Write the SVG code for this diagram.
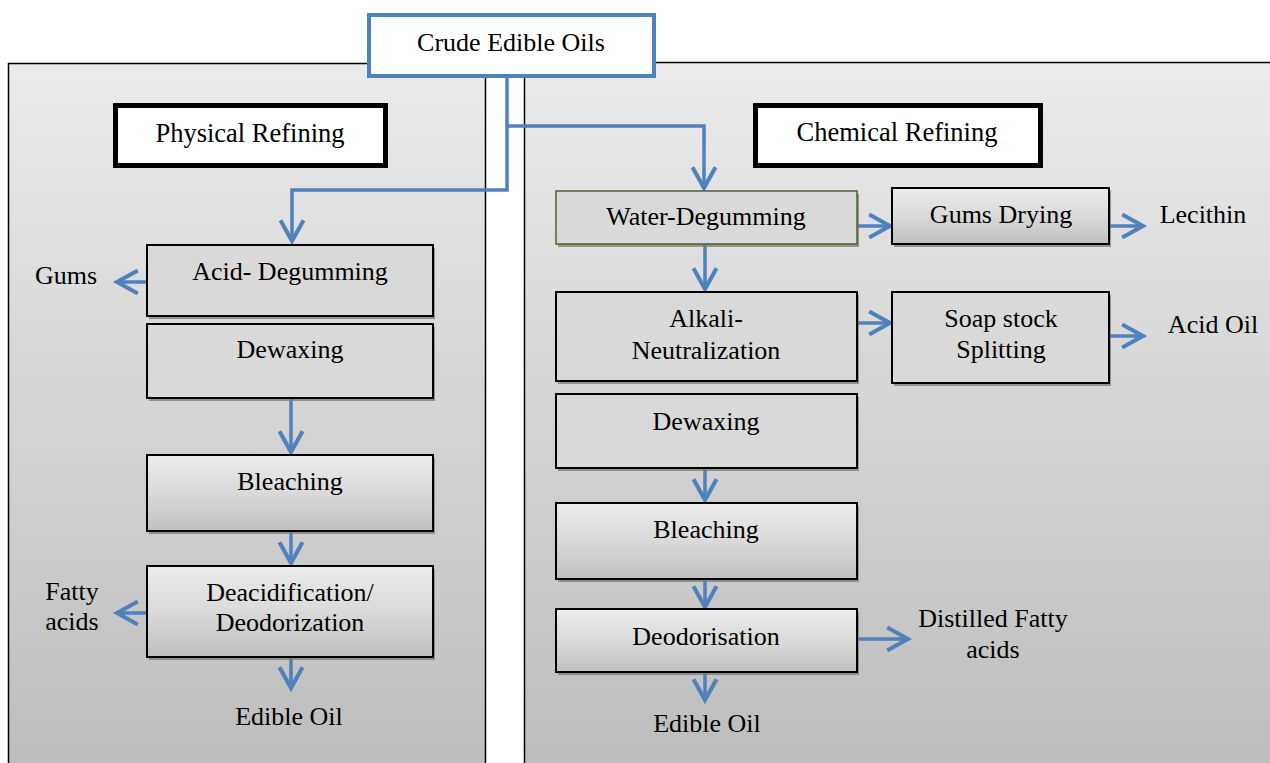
<svg xmlns="http://www.w3.org/2000/svg" width="1270" height="763" viewBox="0 0 1270 763">
<defs>
<linearGradient id="panelGrad" x1="0" y1="0" x2="0" y2="1">
<stop offset="0" stop-color="#ebebeb"/>
<stop offset="1" stop-color="#bcbcbc"/>
</linearGradient>
<linearGradient id="boxGrad" x1="0" y1="0" x2="0" y2="1">
<stop offset="0" stop-color="#ececec"/>
<stop offset="0.5" stop-color="#dadada"/>
<stop offset="1" stop-color="#bfbfbf"/>
</linearGradient>
<marker id="arr" markerUnits="userSpaceOnUse" markerWidth="30" markerHeight="30" viewBox="-22 -13 26 26" refX="0" refY="0" orient="auto">
<path d="M-18,-10 L0,0 L-18,10" fill="none" stroke="#4f81bd" stroke-width="3.5"/>
</marker>
<style>
.t{font-family:"Liberation Serif","Times New Roman",serif;font-size:26px;fill:#000;text-anchor:middle}
.h{font-size:26.5px}
.flat{fill:#d9d9d9;stroke:#000;stroke-width:2}
.grad{fill:url(#boxGrad);stroke:#000;stroke-width:2}
.sh{fill:#7a7a7a;opacity:0.75}
.hdr{fill:#fff;stroke:#000;stroke-width:5}
.c{fill:none;stroke:#4f81bd;stroke-width:3.5;marker-end:url(#arr)}
</style>
</defs>
<rect width="1270" height="763" fill="#fff"/>
<g id="panels">
<rect x="8.5" y="63.5" width="477" height="720" fill="url(#panelGrad)" stroke="#000" stroke-width="1.5"/>
<rect x="524.5" y="62.5" width="760" height="720" fill="url(#panelGrad)" stroke="#000" stroke-width="1.5"/>
</g>
<g id="physical-header">
<rect class="hdr" x="115.5" y="105.5" width="270" height="60"/>
<text class="t h" x="250" y="142">Physical Refining</text>
</g>
<g id="chemical-header">
<rect class="hdr" x="755.5" y="105.5" width="285" height="60"/>
<text class="t h" x="897" y="141">Chemical Refining</text>
</g>
<g id="connectors">
<polyline class="c" points="507,77 507,190 292,190 292,241"/>
<polyline class="c" points="507,126 704,126 704,188"/>
<line class="c" x1="147" y1="282" x2="117" y2="282"/>
<line class="c" x1="291" y1="398" x2="291" y2="452"/>
<line class="c" x1="291" y1="531" x2="291" y2="563"/>
<line class="c" x1="147" y1="613" x2="117" y2="613"/>
<line class="c" x1="291" y1="657" x2="291" y2="688"/>
<line class="c" x1="857" y1="226" x2="890" y2="226"/>
<line class="c" x1="1109" y1="226" x2="1143" y2="226"/>
<line class="c" x1="705" y1="244" x2="705" y2="289"/>
<line class="c" x1="857" y1="323" x2="890" y2="323"/>
<line class="c" x1="1109" y1="336" x2="1143" y2="336"/>
<line class="c" x1="705" y1="468" x2="705" y2="500"/>
<line class="c" x1="705" y1="579" x2="705" y2="607"/>
<line class="c" x1="858" y1="639" x2="908" y2="639"/>
<line class="c" x1="705" y1="672" x2="705" y2="700"/>
</g>
<g id="crude">
<rect x="369" y="15" width="285" height="61" fill="#fff" stroke="#4f81bd" stroke-width="4"/>
<text class="t" x="511" y="51">Crude Edible Oils</text>
</g>
<g id="acid-degumming">
<rect class="sh" x="149" y="248" width="286" height="71"/>
<rect class="flat" x="147" y="245" width="286" height="71"/>
<text class="t" x="290" y="280">Acid- Degumming</text>
</g>
<g id="gums"><text class="t" x="66" y="284">Gums</text></g>
<g id="dewaxing-p">
<rect class="sh" x="149" y="327" width="286" height="74"/>
<rect class="flat" x="147" y="324" width="286" height="74"/>
<text class="t" x="290" y="358">Dewaxing</text>
</g>
<g id="bleaching-p">
<rect class="sh" x="149" y="458" width="286" height="76"/>
<rect class="grad" x="147" y="455" width="286" height="76"/>
<text class="t" x="290" y="490">Bleaching</text>
</g>
<g id="deacidification">
<rect class="sh" x="149" y="569" width="286" height="91"/>
<rect class="grad" x="147" y="566" width="286" height="91"/>
<text class="t" x="290" y="601">Deacidification/</text>
<text class="t" x="290" y="631">Deodorization</text>
</g>
<g id="fatty-acids">
<text class="t" x="72" y="600">Fatty</text>
<text class="t" x="72" y="630">acids</text>
</g>
<g id="edible-oil-p"><text class="t" x="289" y="725">Edible Oil</text></g>
<g id="water-degumming">
<rect class="sh" x="558" y="194" width="301" height="53"/>
<rect x="556" y="191" width="301" height="53" fill="#d9d9d9" stroke="#4f6228" stroke-width="1.5"/>
<text class="t" x="706" y="225">Water-Degumming</text>
</g>
<g id="gums-drying">
<rect class="sh" x="894" y="191" width="217" height="56"/>
<rect class="grad" x="892" y="188" width="217" height="56"/>
<text class="t" x="1001" y="223">Gums Drying</text>
</g>
<g id="lecithin"><text class="t" x="1203" y="223">Lecithin</text></g>
<g id="alkali">
<rect class="sh" x="558" y="295" width="301" height="89"/>
<rect class="flat" x="556" y="292" width="301" height="89"/>
<text class="t" x="706" y="327">Alkali-</text>
<text class="t" x="706" y="359">Neutralization</text>
</g>
<g id="soap-stock">
<rect class="sh" x="894" y="295" width="217" height="91"/>
<rect class="flat" x="892" y="292" width="217" height="91"/>
<text class="t" x="1001" y="327">Soap stock</text>
<text class="t" x="1001" y="358">Splitting</text>
</g>
<g id="acid-oil"><text class="t" x="1213" y="333">Acid Oil</text></g>
<g id="dewaxing-c">
<rect class="sh" x="558" y="397" width="301" height="74"/>
<rect class="flat" x="556" y="394" width="301" height="74"/>
<text class="t" x="706" y="430">Dewaxing</text>
</g>
<g id="bleaching-c">
<rect class="sh" x="558" y="506" width="301" height="76"/>
<rect class="grad" x="556" y="503" width="301" height="76"/>
<text class="t" x="706" y="538">Bleaching</text>
</g>
<g id="deodorisation">
<rect class="sh" x="558" y="612" width="301" height="63"/>
<rect class="grad" x="556" y="609" width="301" height="63"/>
<text class="t" x="706" y="645">Deodorisation</text>
</g>
<g id="distilled">
<text class="t" x="993" y="627">Distilled Fatty</text>
<text class="t" x="993" y="658">acids</text>
</g>
<g id="edible-oil-c"><text class="t" x="707" y="732">Edible Oil</text></g>
</svg>
